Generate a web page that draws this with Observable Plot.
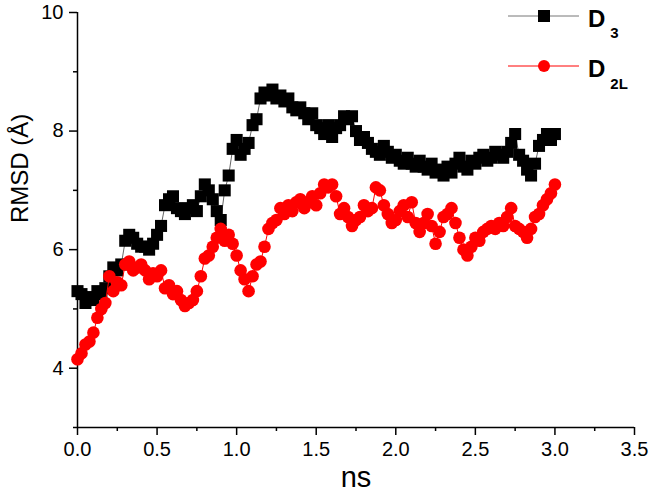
<!DOCTYPE html>
<html>
<head>
<meta charset="utf-8">
<script src="https://cdn.jsdelivr.net/npm/d3@7"></script>
<script src="https://cdn.jsdelivr.net/npm/@observablehq/plot@0.6"></script>
<style>
  html, body { margin: 0; padding: 0; background: #fff; }
  #wrap { position: relative; width: 652px; height: 501px; font-family: "Liberation Sans", Arial, sans-serif; }
  #legend { position: absolute; left: 0; top: 0; pointer-events: none; }
  #chart svg g[aria-label$="tick label"],
  #chart svg g[aria-label$="tick label"] text { font-size: 20px !important; }
</style>
</head>
<body>
<div id="wrap">
  <div id="chart"></div>
  <svg id="legend" width="652" height="501" font-family="Liberation Sans, Arial, sans-serif">
    <line x1="508" x2="579" y1="16" y2="16" stroke="#777" stroke-width="1"></line>
    <rect x="538" y="10" width="12" height="12" fill="#000"></rect>
    <text x="588" y="27" font-size="24" font-weight="bold" fill="#000">D<tspan font-size="15" dx="5" dy="11">3</tspan></text>
    <line x1="508" x2="579" y1="66" y2="66" stroke="#f00" stroke-width="1"></line>
    <circle cx="544" cy="66" r="6" fill="#f00"></circle>
    <text x="588" y="77" font-size="24" font-weight="bold" fill="#000">D<tspan font-size="15" dx="5" dy="12">2L</tspan></text>
  </svg>
</div>
<script>
// time axis (ns)
const time = [
  0.000,0.025,0.050,0.075,0.100,0.125,0.150,0.175,0.200,0.225,
  0.250,0.275,0.300,0.325,0.350,0.375,0.400,0.425,0.450,0.475,
  0.500,0.525,0.550,0.575,0.600,0.625,0.650,0.675,0.700,0.725,
  0.750,0.775,0.800,0.825,0.850,0.875,0.900,0.925,0.950,0.975,
  1.000,1.025,1.050,1.075,1.100,1.125,1.150,1.175,1.200,1.225,
  1.250,1.275,1.300,1.325,1.350,1.375,1.400,1.425,1.450,1.475,
  1.500,1.525,1.550,1.575,1.600,1.625,1.650,1.675,1.700,1.725,
  1.750,1.775,1.800,1.825,1.850,1.875,1.900,1.925,1.950,1.975,
  2.000,2.025,2.050,2.075,2.100,2.125,2.150,2.175,2.200,2.225,
  2.250,2.275,2.300,2.325,2.350,2.375,2.400,2.425,2.450,2.475,
  2.500,2.525,2.550,2.575,2.600,2.625,2.650,2.675,2.700,2.725,
  2.750,2.775,2.800,2.825,2.850,2.875,2.900,2.925,2.950,2.975,
  3.000
];

// RMSD of D3 (Å)
const rmsdD3 = [
  5.30,5.25,5.10,5.20,5.15,5.30,5.25,5.35,5.55,5.70,
  5.65,5.75,6.15,6.25,6.20,6.10,6.05,6.05,6.00,6.10,
  6.25,6.40,6.75,6.85,6.90,6.70,6.65,6.60,6.70,6.75,
  6.65,6.90,7.10,7.00,6.85,6.65,6.50,7.00,7.25,7.70,
  7.85,7.60,7.70,7.80,8.10,8.20,8.55,8.65,8.60,8.70,
  8.55,8.60,8.50,8.55,8.40,8.35,8.40,8.30,8.20,8.30,
  8.10,8.05,7.95,8.10,7.90,8.05,8.10,8.25,8.20,8.25,
  8.00,7.85,7.90,7.80,7.70,7.65,7.60,7.75,7.65,7.55,
  7.60,7.50,7.45,7.55,7.45,7.40,7.50,7.40,7.35,7.45,
  7.30,7.35,7.25,7.40,7.30,7.45,7.55,7.40,7.35,7.50,
  7.45,7.55,7.60,7.50,7.55,7.65,7.60,7.55,7.65,7.80,
  7.95,7.60,7.50,7.35,7.25,7.45,7.75,7.85,7.95,7.85,
  7.95
];

// RMSD of D2L (Å)
const rmsdD2L = [
  4.15,4.25,4.40,4.45,4.60,4.85,5.00,5.10,5.55,5.30,
  5.45,5.40,5.75,5.80,5.65,5.70,5.75,5.65,5.50,5.60,
  5.55,5.65,5.35,5.40,5.25,5.30,5.15,5.05,5.10,5.15,
  5.30,5.55,5.85,5.90,6.05,6.20,6.35,6.15,6.25,6.10,
  5.90,5.65,5.50,5.30,5.55,5.75,5.80,6.05,6.35,6.45,
  6.50,6.70,6.60,6.75,6.65,6.80,6.85,6.70,6.80,6.90,
  6.75,6.95,7.10,7.05,7.10,6.90,6.60,6.70,6.55,6.40,
  6.50,6.55,6.75,6.65,6.70,7.05,7.00,6.75,6.60,6.45,
  6.50,6.65,6.75,6.55,6.80,6.45,6.30,6.45,6.60,6.40,
  6.10,6.30,6.55,6.60,6.70,6.45,6.20,6.00,5.90,6.05,
  6.20,6.15,6.30,6.35,6.40,6.35,6.45,6.40,6.55,6.70,
  6.40,6.35,6.30,6.20,6.35,6.55,6.60,6.75,6.85,6.95,
  7.10
];

const xMajor = [0, 0.5, 1, 1.5, 2, 2.5, 3, 3.5];
const xMinor = [0.25, 0.75, 1.25, 1.75, 2.25, 2.75, 3.25];
const yMajor = [4, 6, 8, 10];
const yMinor = [3, 5, 7, 9];

const d3Data = time.map((t, i) => ({t, v: rmsdD3[i]}));
const d2lData = time.map((t, i) => ({t, v: rmsdD2L[i]}));

const chart = Plot.plot({
  width: 652,
  height: 501,
  marginLeft: 77,
  marginRight: 18,
  marginTop: 12,
  marginBottom: 74,
  style: {background: "#fff", color: "#000", fontFamily: "Liberation Sans, Arial, sans-serif", fontSize: "20px"},
  x: {domain: [0, 3.5]},
  y: {domain: [3, 10]},
  marks: [
    Plot.ruleX([0], {stroke: "#000", strokeWidth: 1.5}),
    Plot.ruleY([3], {stroke: "#000", strokeWidth: 1.5}),
    Plot.axisY({ticks: yMajor, tickSize: 8, tickPadding: 6, tickFormat: d => String(d), fontSize: 20, label: null, strokeWidth: 1.5}),
    Plot.axisY({ticks: yMinor, tickSize: 4, tickFormat: () => "", label: null, strokeWidth: 1.5}),
    Plot.axisX({ticks: xMajor, tickSize: 8, tickPadding: 6, tickFormat: d3.format(".1f"), fontSize: 20, label: null, strokeWidth: 1.5}),
    Plot.axisX({ticks: xMinor, tickSize: 4, tickFormat: () => "", label: null, strokeWidth: 1.5}),
    Plot.text(["RMSD (Å)"], {frameAnchor: "left", rotate: -90, dx: -57, dy: 3, fontSize: 24, fill: "#000"}),
    Plot.text(["ns"], {frameAnchor: "bottom", dy: 59, fontSize: 29, fill: "#000"}),
    Plot.line(d3Data, {x: "t", y: "v", stroke: "#666", strokeWidth: 1}),
    Plot.dot(d3Data, {x: "t", y: "v", symbol: "square", r: 6.8, fill: "#000"}),
    Plot.line(d2lData, {x: "t", y: "v", stroke: "#f00", strokeWidth: 1}),
    Plot.dot(d2lData, {x: "t", y: "v", r: 6.3, fill: "#f00"})
  ]
});
document.getElementById("chart").appendChild(chart);
</script>
</body>
</html>
